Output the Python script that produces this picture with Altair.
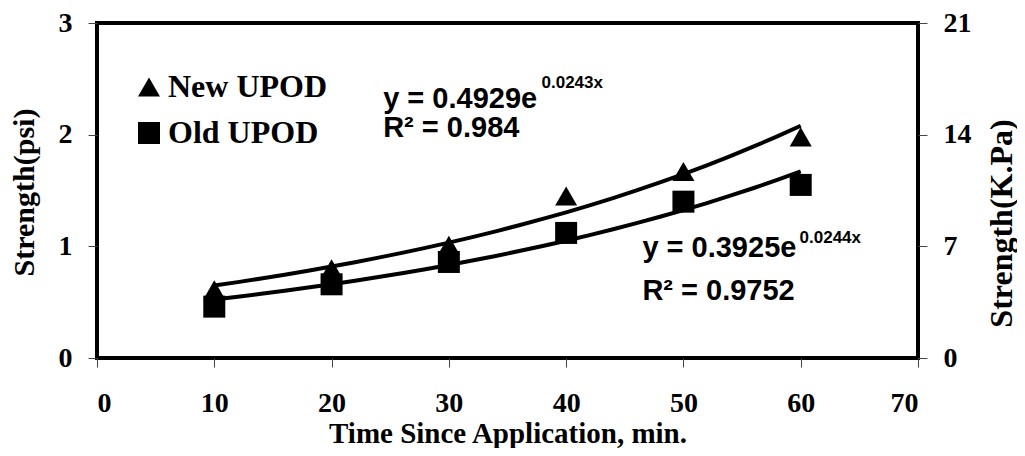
import altair as alt
import pandas as pd

# Data
times = [10, 20, 30, 40, 50, 60]
new_upod = [0.61, 0.80, 1.01, 1.45, 1.67, 1.98]
old_upod = [0.46, 0.66, 0.86, 1.12, 1.40, 1.55]
series_names = ["New UPOD", "Old UPOD"]

x_ticks = [0, 10, 20, 30, 40, 50, 60, 70]
y_ticks_psi = [0, 1, 2, 3]
y_ticks_kpa = [0, 7, 14, 21]

# Trendline annotations (text, anchor in data coordinates)
eq_texts = ["y = 0.4929e", "0.0243x", "R² = 0.984", "y = 0.3925e", "0.0244x", "R² = 0.9752"]
eq_x = [24.4, 37.9, 24.4, 46.5, 59.9, 46.5]
eq_y = [2.24, 2.42, 1.98, 0.905, 1.03, 0.52]
eq_kind = ["main", "sup", "main", "main", "sup", "main"]

df = pd.DataFrame({
    "time": times * 2,
    "strength": new_upod + old_upod,
    "series": [series_names[0]] * len(times) + [series_names[1]] * len(times),
})
eq_df = pd.DataFrame({"text": eq_texts, "x": eq_x, "y": eq_y, "kind": eq_kind})

SERIF = "Liberation Serif"
SANS = "Liberation Sans"

x_enc = alt.X(
    "time:Q",
    scale=alt.Scale(domain=[0, 70], nice=False, zero=False),
    axis=alt.Axis(
        values=x_ticks, title="Time Since Application, min.", orient="bottom",
        titleY=84, titleBaseline="alphabetic", titleAnchor="middle", format="d",
        titleFontSize=29,
    ),
)
y_scale = alt.Scale(domain=[0, 3], nice=False)

points = alt.Chart(df).mark_point(filled=True, color="black", size=484, opacity=1).encode(
    x=x_enc,
    y=alt.Y(
        "strength:Q", scale=y_scale,
        axis=alt.Axis(
            values=y_ticks_psi, title="Strength(psi)", orient="left", format="d",
            titleAngle=270, titleX=-73, titleY=169, titleBaseline="middle", titleAlign="center",
        ),
    ),
    shape=alt.Shape(
        "series:N",
        scale=alt.Scale(domain=series_names, range=["triangle-up", "square"]),
        legend=alt.Legend(
            title=None, orient="none", legendX=36, legendY=48, padding=0,
            rowPadding=14, labelOffset=3, symbolSize=484,
            symbolFillColor="black", symbolStrokeColor="black", symbolStrokeWidth=0,
            labelFont=SERIF, labelFontWeight="bold", labelFontSize=32, labelColor="black",
        ),
    ),
)

trend = alt.Chart(df).transform_regression(
    "time", "strength", method="exp", groupby=["series"], extent=[10, 60]
).mark_line(color="black", strokeWidth=4).encode(
    x=alt.X("time:Q"),
    y=alt.Y("strength:Q", scale=y_scale),
    detail="series:N",
)

eq_main = alt.Chart(eq_df).transform_filter(alt.datum.kind == "main").mark_text(
    font=SANS, fontWeight="bold", fontSize=29, align="left", baseline="alphabetic", color="black"
).encode(x=alt.X("x:Q"), y=alt.Y("y:Q", scale=y_scale), text="text:N")

eq_sup = alt.Chart(eq_df).transform_filter(alt.datum.kind == "sup").mark_text(
    font=SANS, fontWeight="bold", fontSize=17, align="left", baseline="alphabetic", color="black"
).encode(x=alt.X("x:Q"), y=alt.Y("y:Q", scale=y_scale), text="text:N")

left = alt.layer(trend, points, eq_main, eq_sup)

right = alt.Chart(df).transform_calculate(kpa="datum.strength * 7").mark_point(opacity=0).encode(
    x=alt.X("time:Q"),
    y=alt.Y(
        "kpa:Q", scale=alt.Scale(domain=[0, 21], nice=False),
        axis=alt.Axis(
            values=y_ticks_kpa, title="Strength(K.Pa)", orient="right", format="d",
            titleAngle=270, titleX=83, titleY=200, titleBaseline="middle", titleAlign="center",
            titleFontSize=32,
        ),
    ),
)

chart = alt.layer(left, right).resolve_scale(y="independent").properties(
    width=821, height=335,
    autosize=alt.AutoSizeParams(type="none"),
    padding={"left": 89, "top": 15, "right": 99, "bottom": 90},
    background="white",
).configure_view(
    stroke="black", strokeWidth=4
).configure_axis(
    grid=False, domain=False,
    tickColor="#444", tickWidth=1, tickSize=9,
    labelFont=SERIF, labelFontWeight="bold", labelFontSize=28, labelColor="black",
    labelPadding=16,
    titleFont=SERIF, titleFontWeight="bold", titleFontSize=30, titleColor="black",
).configure_axisBottom(labelPadding=22, labelFontSize=28)

chart.save("out.html", embed_options={"renderer": "svg", "actions": False})
